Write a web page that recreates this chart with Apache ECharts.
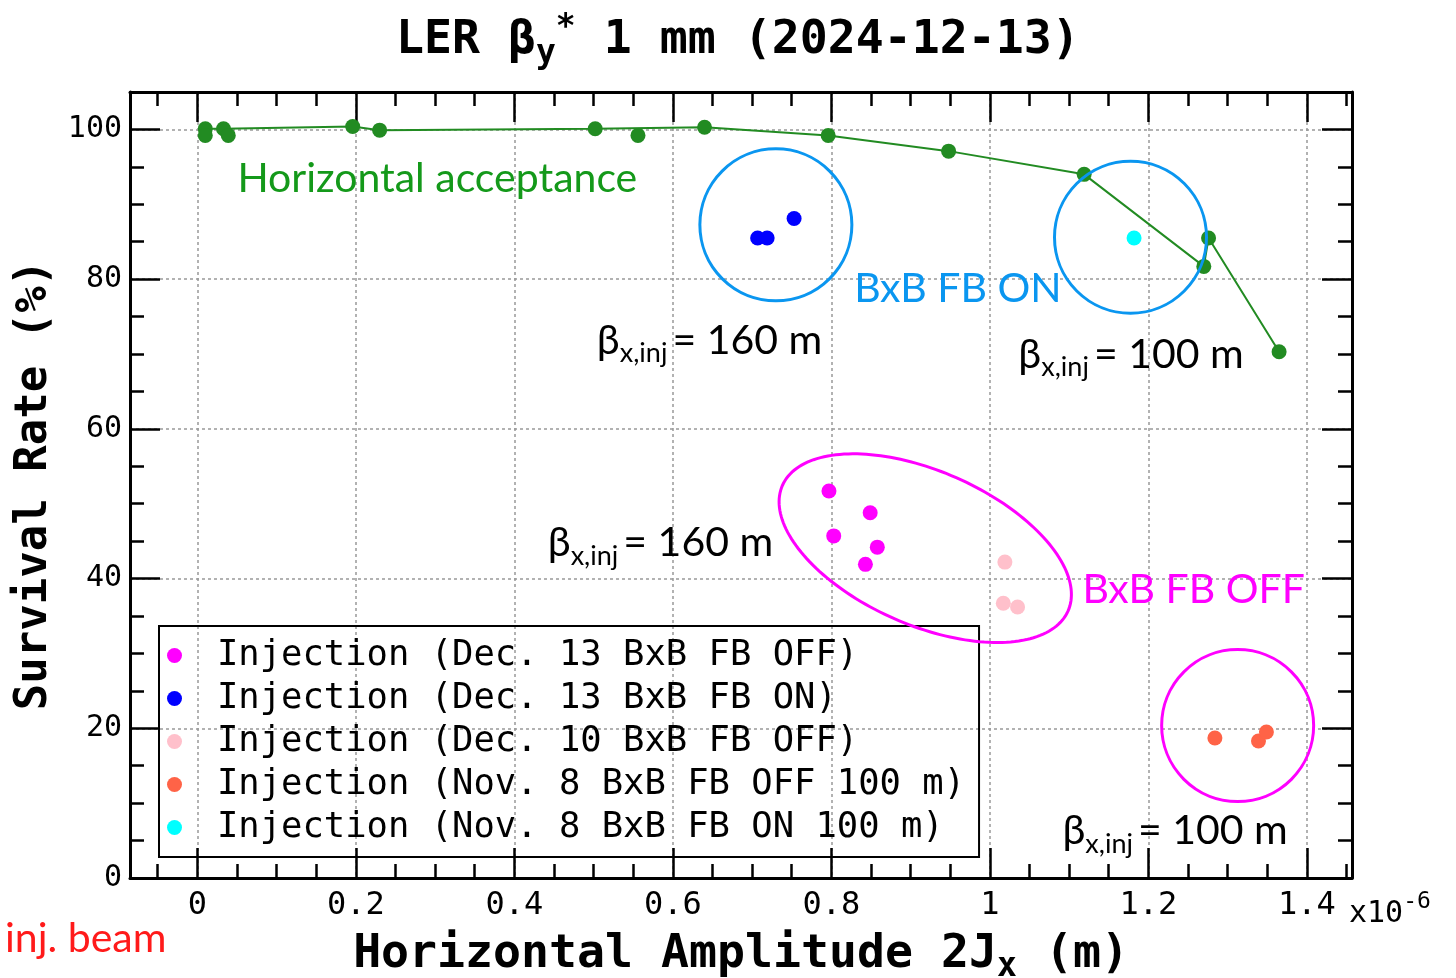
<!DOCTYPE html>
<html><head><meta charset="utf-8">
<script src="https://cdn.jsdelivr.net/npm/echarts@6/dist/echarts.min.js"></script>
<style>html,body{margin:0;padding:0;background:#fff}#c{width:1456px;height:978px}</style>
</head><body><div id="c"></div>
<script>
// ---------------- data (x in units of 1e-6 m, y in %) ----------------
const accX = [0.010, 0.033, 0.196, 0.230, 0.502, 0.640, 0.796, 0.948, 1.119, 1.270, 1.276, 1.365];
const accY = [100.1, 100.1, 100.4, 99.9, 100.1, 100.3, 99.2, 97.1, 94.0, 81.7, 85.5, 70.3];
const accExtraX = [0.010, 0.039, 0.556];
const accExtraY = [99.2, 99.2, 99.2];
const dec13OffX = [0.797, 0.849, 0.803, 0.858, 0.843];
const dec13OffY = [51.7, 48.8, 45.7, 44.2, 41.9];
const dec13OnX = [0.707, 0.719, 0.753];
const dec13OnY = [85.5, 85.5, 88.1];
const dec10OffX = [1.019, 1.017, 1.035];
const dec10OffY = [42.2, 36.7, 36.2];
const nov8OffX = [1.284, 1.339, 1.349];
const nov8OffY = [18.7, 18.3, 19.5];
const nov8OnX = [1.182];
const nov8OnY = [85.5];
const seriesNames = [
  'Injection (Dec. 13 BxB FB OFF)',
  'Injection (Dec. 13 BxB FB ON)',
  'Injection (Dec. 10 BxB FB OFF)',
  'Injection (Nov. 8 BxB FB OFF 100 m)',
  'Injection (Nov. 8 BxB FB ON 100 m)'
];
const xTickLabels = [0, 0.2, 0.4, 0.6, 0.8, 1, 1.2, 1.4];
const yTickLabels = [0, 20, 40, 60, 80, 100];
const xRange = [-0.085, 1.457];
const yRange = [0, 105];

// ---------------- styles ----------------
const MONO = '"DejaVu Sans Mono", monospace';
const SANS = 'Lato, "Open Sans", "DejaVu Sans", sans-serif';
const GREEN = '#228B22', GREEN_TXT = '#14991a', BLUE_TXT = '#0a96f0', MAG = '#ff00ff';
const colors = ['#ff00ff', '#0000ff', '#ffc0cb', '#ff6347', '#00ffff'];
const zip = (xs, ys) => xs.map((x, i) => [x, ys[i]]);
const near = (v, arr) => arr.some(t => Math.abs(t - v) < 1e-6);

const chart = echarts.init(document.getElementById('c'), null, {renderer: 'canvas'});

const frameAxisCommon = {
  axisLine: {show: true, onZero: false, lineStyle: {color: '#000', width: 3}},
  axisTick: {show: true, inside: true, length: 30, lineStyle: {color: '#000', width: 2.5}},
  minorTick: {show: true, splitNumber: 4, length: 14, lineStyle: {color: '#000', width: 2.5}},
  splitLine: {show: false}
};
const gridSplit = {show: true, showMinLine: false, showMaxLine: false, lineStyle: {color: '#999', width: 1.5, type: [3, 3]}};

const option = {
  backgroundColor: '#fff',
  animation: false,
  title: {
    text: '{a|LER β}{s|y}{p|*}{a| 1 mm (2024-12-13)}',
    left: 391, top: 5,
    textStyle: {
      rich: {
        a: {fontFamily: MONO, fontWeight: 'bold', fontSize: 46.5, lineHeight: 62, color: '#000'},
        s: {fontFamily: MONO, fontWeight: 'bold', fontSize: 33, lineHeight: 33, padding: [26, 0, 0, 0], color: '#000'},
        p: {fontFamily: MONO, fontWeight: 'bold', fontSize: 33, lineHeight: 33, padding: [0, 0, 26, 0], color: '#000'}
      }
    }
  },
  grid: {left: 130, right: 104, top: 92, bottom: 100, containLabel: false, outerBoundsMode: 'none'},
  legend: {
    orient: 'vertical', left: 159, top: 626,
    padding: [8, 14, 8, 8], itemGap: 0,
    borderColor: '#000', borderWidth: 2,
    itemWidth: 15, itemHeight: 15, icon: 'circle',
    data: seriesNames,
    textStyle: {fontFamily: MONO, fontSize: 35.5, lineHeight: 43, color: '#000', padding: [0, 0, 0, 30]}
  },
  xAxis: [
    Object.assign({
      type: 'value', position: 'bottom', min: xRange[0], max: xRange[1], splitNumber: 7,
      axisLabel: {
        show: true, color: '#000', fontFamily: MONO, fontSize: 32, margin: 12,
        showMinLabel: false, showMaxLabel: false,
        formatter: v => near(v, xTickLabels) ? String(+v.toFixed(1)) : ''
      },
      name: '{a|Horizontal Amplitude 2J}{s|x}{a| (m)}',
      nameLocation: 'middle', nameGap: 48,
      nameTextStyle: {
        rich: {
          a: {fontFamily: MONO, fontWeight: 'bold', fontSize: 46.5, lineHeight: 56, color: '#000'},
          s: {fontFamily: MONO, fontWeight: 'bold', fontSize: 33, lineHeight: 33, padding: [24, 0, 0, 0], color: '#000'}
        }
      }
    }, frameAxisCommon, {splitLine: gridSplit}),
    Object.assign({
      type: 'value', position: 'top', min: xRange[0], max: xRange[1], splitNumber: 7,
      axisLabel: {show: false}
    }, frameAxisCommon)
  ],
  yAxis: [
    Object.assign({
      type: 'value', position: 'left', min: yRange[0], max: yRange[1], interval: 20,
      axisLabel: {
        show: true, color: '#000', fontFamily: MONO, fontSize: 30, margin: 8,
        showMaxLabel: false,
        formatter: v => near(v, yTickLabels) ? String(v) : ''
      },
      name: 'Survival Rate (%)',
      nameLocation: 'middle', nameGap: 72,
      nameTextStyle: {fontFamily: MONO, fontWeight: 'bold', fontSize: 44, color: '#000'}
    }, frameAxisCommon, {splitLine: gridSplit}),
    Object.assign({
      type: 'value', position: 'right', min: yRange[0], max: yRange[1], interval: 20,
      axisLabel: {show: false}
    }, frameAxisCommon)
  ],
  series: [
    {
      name: 'Horizontal acceptance', type: 'line', data: zip(accX, accY),
      symbol: 'circle', symbolSize: 15, itemStyle: {color: GREEN, opacity: 1},
      lineStyle: {color: GREEN, width: 2}, z: 3
    },
    {
      name: 'acc-extra', type: 'scatter', data: zip(accExtraX, accExtraY),
      symbol: 'circle', symbolSize: 15, itemStyle: {color: GREEN, opacity: 1}, z: 3
    },
    {name: seriesNames[0], type: 'scatter', data: zip(dec13OffX, dec13OffY), symbolSize: 15, itemStyle: {color: colors[0], opacity: 1}, z: 4},
    {name: seriesNames[1], type: 'scatter', data: zip(dec13OnX, dec13OnY), symbolSize: 15, itemStyle: {color: colors[1], opacity: 1}, z: 4},
    {name: seriesNames[2], type: 'scatter', data: zip(dec10OffX, dec10OffY), symbolSize: 15, itemStyle: {color: colors[2], opacity: 1}, z: 4},
    {name: seriesNames[3], type: 'scatter', data: zip(nov8OffX, nov8OffY), symbolSize: 15, itemStyle: {color: colors[3], opacity: 1}, z: 4},
    {name: seriesNames[4], type: 'scatter', data: zip(nov8OnX, nov8OnY), symbolSize: 15, itemStyle: {color: colors[4], opacity: 1}, z: 4}
  ]
};
chart.setOption(option);

// ---------------- annotations (anchored in data coordinates) ----------------
const px = p => chart.convertToPixel({gridIndex: 0}, p);
const betaRich = (fs) => ({
  b: {fontFamily: SANS, fontSize: fs, lineHeight: 56, fill: '#000'},
  s: {fontFamily: SANS, fontSize: fs * 0.66, lineHeight: 28, padding: [26, 0, 0, 0], fill: '#000'},
  m: {fontFamily: SANS, fontSize: fs, lineHeight: 56, padding: [0, 0, 0, 5], fill: '#000'}
});
const annoTexts = [
  {at: [0.0505, 93.46], text: 'Horizontal acceptance', color: GREEN_TXT},
  {at: [0.8288, 78.77], text: 'BxB FB ON', color: BLUE_TXT},
  {at: [1.1169, 38.45], text: 'BxB FB OFF', color: MAG},
  {at: [0.5041, 71.83], beta: '160'},
  {at: [1.036, 69.96], beta: '100'},
  {at: [0.4422, 44.73], beta: '160'},
  {at: [1.0916, 6.27], beta: '100'}
];
const annoCircles = [
  {at: [0.730, 87.25], r: 76, color: BLUE_TXT},
  {at: [1.1775, 85.6], r: 76, color: BLUE_TXT},
  {at: [1.3127, 20.36], r: 76, color: MAG}
];
const annoEllipse = {at: [0.9185, 44.06], a: 156, b: 77, rot: 23.7, color: MAG};

function ellipsePts(cx, cy, a, b, rotDeg) {
  const t = rotDeg * Math.PI / 180, pts = [];
  for (let i = 0; i < 180; i++) {
    const u = i / 180 * 2 * Math.PI, x = a * Math.cos(u), y = b * Math.sin(u);
    pts.push([cx + x * Math.cos(t) - y * Math.sin(t), cy + x * Math.sin(t) + y * Math.cos(t)]);
  }
  return pts;
}

const graphics = [];
annoTexts.forEach(t => {
  const [x, y] = px(t.at);
  if (t.beta) {
    graphics.push({type: 'text', x, y, z: 50, style: {
      text: '{b|β}{s|x,inj}{m|= ' + t.beta + ' m}', rich: betaRich(41),
      align: 'left', verticalAlign: 'middle'}});
  } else {
    graphics.push({type: 'text', x, y, z: 50, style: {
      text: t.text, fontFamily: SANS, fontSize: 41, fill: t.color,
      align: 'left', verticalAlign: 'middle'}});
  }
});
annoCircles.forEach(c => {
  const [x, y] = px(c.at);
  graphics.push({type: 'circle', z: 50, shape: {cx: x, cy: y, r: c.r},
    style: {fill: 'none', stroke: c.color, lineWidth: 3}});
});
{
  const [x, y] = px(annoEllipse.at);
  graphics.push({type: 'polygon', z: 50, shape: {points: ellipsePts(x, y, annoEllipse.a, annoEllipse.b, annoEllipse.rot)},
    style: {fill: 'none', stroke: annoEllipse.color, lineWidth: 3}});
}
{
  const [x, y] = px([xRange[1], yRange[0]]);
  graphics.push({type: 'text', x: x - 3, y: y + 36, z: 50, style: {
    text: '{a|x10}{s|-6}', align: 'left', verticalAlign: 'middle',
    rich: {
      a: {fontFamily: MONO, fontSize: 30, lineHeight: 40, fill: '#000'},
      s: {fontFamily: MONO, fontSize: 23, lineHeight: 23, padding: [0, 0, 24, 0], fill: '#000'}
    }}});
}
graphics.push({type: 'text', left: 5, top: 918, z: 50, style: {
  text: 'inj. beam', fontFamily: SANS, fontSize: 41, fill: '#ff1a1a'}});

chart.setOption({graphic: graphics});
</script>
</body></html>
